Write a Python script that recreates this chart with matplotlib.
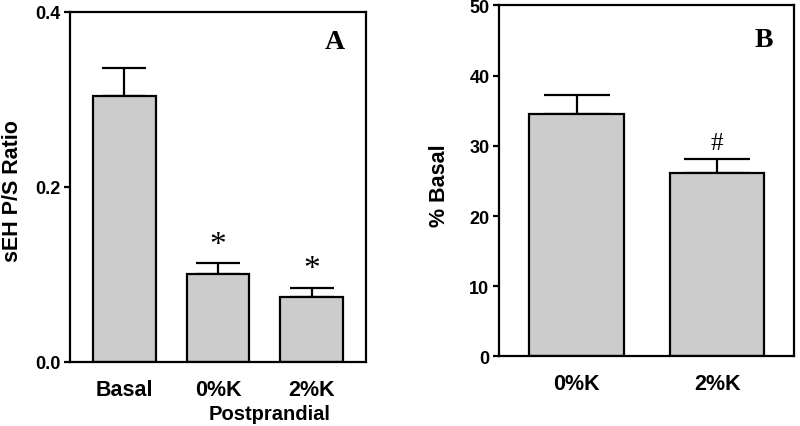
import matplotlib
matplotlib.use("Agg")
import matplotlib.pyplot as plt

# Panel A data
a_categories = ["Basal", "0%K", "2%K"]
a_values = [0.304, 0.101, 0.074]
a_errors = [0.032, 0.012, 0.011]
a_marks = ["", "*", "*"]
a_yticks = [0.0, 0.2, 0.4]

# Panel B data
b_categories = ["0%K", "2%K"]
b_values = [34.6, 26.1]
b_errors = [2.6, 2.0]
b_marks = ["", "#"]
b_yticks = [0, 10, 20, 30, 40, 50]

sans = ["Liberation Sans", "DejaVu Sans"]
serif = ["Liberation Serif", "DejaVu Serif"]
plt.rcParams['font.family'] = sans

fig = plt.figure(figsize=(8, 4.27), dpi=100)
axA = fig.add_axes([0.0875, 0.15, 0.37, 0.82])
axB = fig.add_axes([0.624, 0.163, 0.369, 0.822])

bar_color = "#cccccc"
lw = 1.6


def style(ax):
    for s in ax.spines.values():
        s.set_linewidth(lw)
    ax.tick_params(axis='x', length=0, pad=12)
    ax.tick_params(axis='y', length=4, width=lw, direction='out', pad=3, right=False)
    for lab in ax.get_xticklabels():
        lab.set_fontsize(15.5)
        lab.set_fontweight('bold')
    for lab in ax.get_yticklabels():
        lab.set_fontsize(13)
        lab.set_fontweight('bold')


# Panel A
xa = list(range(len(a_categories)))
axA.bar(xa, a_values, width=0.67, color=bar_color, edgecolor='black', linewidth=lw, zorder=2)
axA.errorbar(xa, a_values, yerr=[[0] * len(a_errors), a_errors], fmt='none',
             ecolor='black', elinewidth=lw, capsize=16, capthick=lw, zorder=1)
for x, v, e, m in zip(xa, a_values, a_errors, a_marks):
    if m:
        axA.text(x, v + e + 0.004, m, ha='center', va='bottom', fontsize=24,
                 family=serif)
axA.set_xlim(-0.58, 2.58)
axA.set_ylim(0, 0.4)
axA.set_yticks(a_yticks)
axA.set_yticklabels([f"{t:.1f}" for t in a_yticks])
axA.set_xticks(xa)
axA.set_xticklabels(a_categories)
axA.set_ylabel("sEH P/S Ratio", fontsize=15.5, fontweight='bold')
axA.yaxis.set_label_coords(-0.158, 0.49)
axA.text(0.895, 0.914, "A", transform=axA.transAxes, ha='center', va='center',
         fontsize=20, fontweight='bold', family=serif)
axA.text(1.55, -0.12, "Postprandial", transform=axA.get_xaxis_transform(),
         ha='center', va='top', fontsize=14.5, fontweight='bold')
style(axA)

# Panel B
xb = list(range(len(b_categories)))
axB.bar(xb, b_values, width=0.67, color=bar_color, edgecolor='black', linewidth=lw, zorder=2)
axB.errorbar(xb, b_values, yerr=[[0] * len(b_errors), b_errors], fmt='none',
             ecolor='black', elinewidth=lw, capsize=24, capthick=lw, zorder=1)
for x, v, e, m in zip(xb, b_values, b_errors, b_marks):
    if m:
        axB.text(x, v + e + 0.8, m, ha='center', va='bottom', fontsize=18,
                 family=serif)
axB.set_xlim(-0.55, 1.55)
axB.set_ylim(0, 50)
axB.set_yticks(b_yticks)
axB.set_yticklabels([str(t) for t in b_yticks])
axB.set_xticks(xb)
axB.set_xticklabels(b_categories)
axB.set_ylabel("% Basal", fontsize=15.5, fontweight='bold')
axB.yaxis.set_label_coords(-0.168, 0.49)
axB.text(0.898, 0.904, "B", transform=axB.transAxes, ha='center', va='center',
         fontsize=20, fontweight='bold', family=serif)
style(axB)

fig.savefig("out.png", dpi=100)
